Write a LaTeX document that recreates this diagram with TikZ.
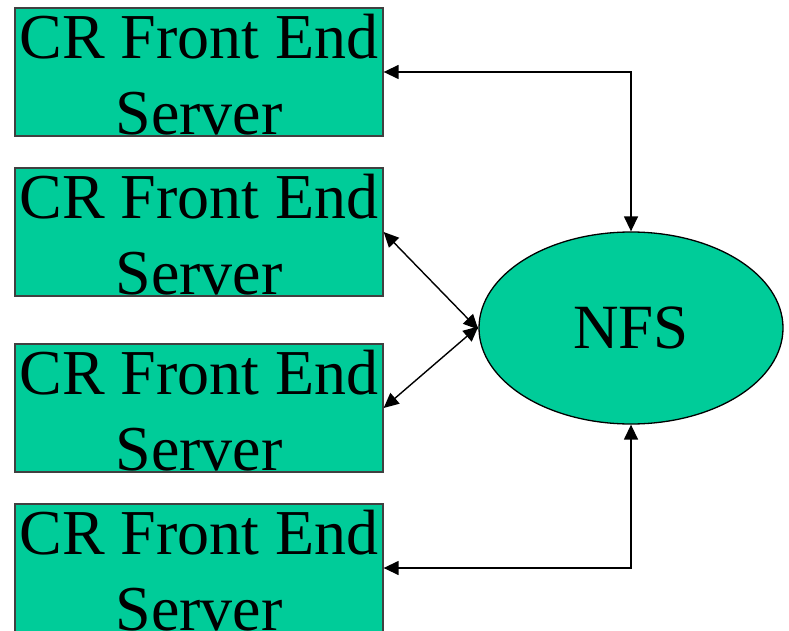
\documentclass[tikz,border=0pt]{standalone}
\usepackage{fontspec}
\setmainfont{Liberation Serif}
\usetikzlibrary{shapes.geometric,arrows.meta}
\definecolor{boxgreen}{RGB}{0,204,153}
\newcommand{\srvtext}{\rule{0pt}{50pt}CR Front End\\Server}
\begin{document}
\begin{tikzpicture}[x=1pt,y=-1pt,
  server/.style={draw=black!75, line width=1.3pt, fill=boxgreen, rectangle,
    minimum width=368pt, minimum height=128pt, inner sep=0pt, align=center,
    font=\fontsize{64}{76}\selectfont},
  store/.style={draw=black, line width=1.3pt, fill=boxgreen, ellipse,
    minimum width=304pt, minimum height=192pt, inner sep=0pt,
    font=\fontsize{63}{76}\selectfont},
  link/.style={line width=1.4pt, {Triangle[length=15pt,width=14pt]}-{Triangle[length=15pt,width=14pt]}}]
\useasboundingbox (0,0) rectangle (789,631);
\clip (0,0) rectangle (789,631);
\node[server] (b1) at (199,72) {\srvtext};
\node[server] (b2) at (199,232) {\srvtext};
\node[server] (b3) at (199,408) {\srvtext};
\node[server] (b4) at (199,568) {\srvtext};
\node[store] (nfs) at (631,328) {NFS};
\draw[link] (b1.east) -| (nfs.north);
\draw[link] (b4.east) -| (nfs.south);
\draw[link] (b2.east) -- ([yshift=-1.5pt]nfs.west);
\draw[link] (b3.east) -- ([yshift=1.5pt]nfs.west);
\end{tikzpicture}
\end{document}
